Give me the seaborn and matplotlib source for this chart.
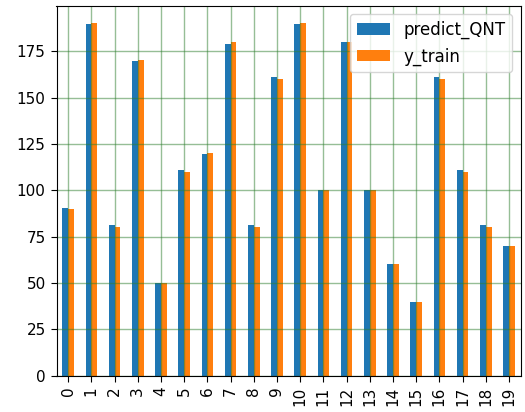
import matplotlib
matplotlib.use("Agg")
import matplotlib.pyplot as plt
import seaborn as sns
import pandas as pd

# Model predictions vs. training targets for the first 20 samples
sample_idx = list(range(20))
predict_QNT = [90.5, 189.5, 81, 169.5, 50, 111, 119.5, 179, 81, 161,
               189.5, 100, 180, 100, 60, 40, 161, 111, 81, 70]
y_train = [90, 190, 80, 170, 50, 110, 120, 180, 80, 160,
           190, 100, 180, 100, 60, 40, 160, 110, 80, 70]
series_names = ["predict_QNT", "y_train"]
series_colors = ["#1f77b4", "#ff7f0e"]

df = pd.DataFrame({
    "idx": [str(i) for i in sample_idx] * 2,
    "value": predict_QNT + y_train,
    "series": [series_names[0]] * len(sample_idx) + [series_names[1]] * len(sample_idx),
})

fig = plt.figure(figsize=(5.25, 4.12), dpi=100)
ax = fig.add_axes([56.5 / 525, 1 - 375.7 / 412, (520.5 - 56.5) / 525, (375.7 - 5.7) / 412])
ax.set_axisbelow("line")

sns.barplot(data=df, x="idx", y="value", hue="series", hue_order=series_names,
            palette=series_colors, saturation=1, width=0.5, gap=0,
            errorbar=None, ax=ax)

ax.set_ylim(0, 199.5)
ax.set_xlim(-0.5, 19.5)
ax.set_yticks([0, 25, 50, 75, 100, 125, 150, 175])
ax.tick_params(axis="both", labelsize=11, length=4.3, pad=3.5)
ax.tick_params(axis="x", labelrotation=90)
ax.set_xlabel("")
ax.set_ylabel("")
ax.grid(True, color="#2f7f2f", alpha=0.5, linewidth=1.0)

handles, labels = ax.get_legend_handles_labels()
ax.legend(handles, labels, loc="upper right", fontsize=12)

fig.savefig("out.png", dpi=100)
